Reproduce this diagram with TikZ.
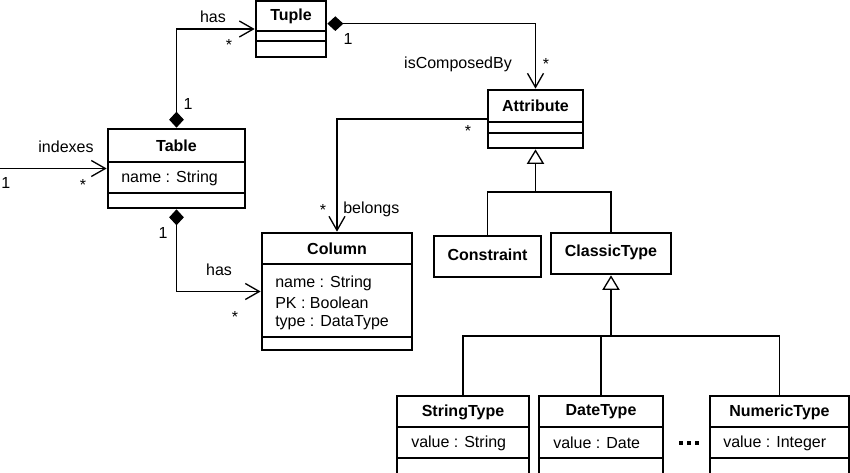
\documentclass[tikz,border=0pt]{standalone}
\usepackage{fontspec}
\setmainfont{Liberation Sans}
\usetikzlibrary{arrows.meta,fit}

\begin{document}
\begin{tikzpicture}[x=0.75pt,y=0.75pt,yscale=-1,xscale=1,
  font=\fontsize{12}{14}\selectfont,
  cls/.style={draw,line width=2pt,inner sep=0pt},
  sep/.style={line width=0.8pt},
  ttl/.style={font=\fontsize{12}{14}\selectfont\bfseries,inner sep=0.75pt},
  field/.style={anchor=west,inner sep=0.75pt},
  lbl/.style={inner sep=0.75pt},
  link/.style={line width=1pt},
  assoc/.style={link,-{Straight Barb[length=10.5pt,width=12pt]}},
  comp/.style={link,{Diamond[length=12pt,width=11pt]}-{Straight Barb[length=10.5pt,width=12pt]}},
  gen/.style={link,-{Triangle[open,length=11pt,width=13pt,fill=white]}}]
\useasboundingbox (0,0) rectangle (850,473);

%Class: Tuple
\node[cls, fit={(256,1) (326,57)}] (tuple) {};
\draw[sep] (256,31) -- (326,31);
\draw[sep] (256,41) -- (326,41);
\node[ttl] (tupleT) at (291,16) {Tuple};

%Class: Table
\node[cls, fit={(108,129) (245,208)}] (table) {};
\draw[sep] (108,162) -- (245,162);
\draw[sep] (108,193) -- (245,193);
\node[ttl] (tableT) at (176.5,146) {Table};
\node[field] (tableA) at (120,178) {name : String};

%Class: Attribute
\node[cls, fit={(488,90) (583,148)}] (attribute) {};
\draw[sep] (488,122) -- (583,122);
\draw[sep] (488,133) -- (583,133);
\node[ttl] (attributeT) at (535.5,106) {Attribute};

%Class: Column
\node[cls, fit={(262,233) (412,350)}] (column) {};
\draw[sep] (262,264) -- (412,264);
\draw[sep] (262,337) -- (412,337);
\node[ttl] (columnT) at (337,249) {Column};
\node[field] (columnA) at (274,283) {name : String};
\node[field] (columnB) at (274,303) {PK : Boolean};
\node[field] (columnC) at (274,323) {type : DataType};

%Class: Constraint
\node[cls, fit={(434,236) (541,277)}] (constraint) {};
\node[ttl] (constraintT) at (487.5,255) {Constraint};

%Class: ClassicType
\node[cls, fit={(551,233) (671,274)}] (classic) {};
\node[ttl] (classicT) at (611,252) {ClassicType};

%Class: StringType
\node[cls, fit={(397,396) (529,477)}] (stringt) {};
\draw[sep] (397,427) -- (529,427);
\draw[sep] (397,458) -- (529,458);
\node[ttl] (stringtT) at (463,412) {StringType};
\node[field] (stringtA) at (410,443) {value : String};

%Class: DateType
\node[cls, fit={(539,396) (663,477)}] (datet) {};
\draw[sep] (539,427) -- (663,427);
\draw[sep] (539,458) -- (663,458);
\node[ttl] (datetT) at (601,412) {DateType};
\node[field] (datetA) at (552,443) {value : Date};

%Class: NumericType
\node[cls, fit={(710,396) (849,477)}] (numt) {};
\draw[sep] (710,427) -- (849,427);
\draw[sep] (710,458) -- (849,458);
\node[ttl] (numtT) at (779.5,412) {NumericType};
\node[field] (numtA) at (722,443) {value : Integer};

%Dots
\foreach \x in {681,689,697}
  \fill (\x-2,441) rectangle (\x+2,445);

%Associations
\coordinate (src) at (0,168.5);
\draw[comp] (table.north) |- (tuple.west);
\draw[comp] ([yshift=-4pt]tuple.east) -| (attribute.north);
\draw[assoc] (src) -- (table.west);
\draw[comp] (table.south) |- (column.west);
\draw[assoc] (attribute.west) -| (column.north);

%Generalizations
\coordinate (g1) at (535.5,192);
\draw[link] (constraint.north) |- (g1) -| (classic.north);
\draw[gen] (g1) -- (attribute.south);
\coordinate (g2) at (611,336);
\draw[link] (stringt.north) |- (g2) -| (numt.north);
\draw[link] (datet.north) -- (datet.north |- g2);
\draw[gen] (g2) -- (classic.south);

% Text Node
\node[lbl] (hasT) at (213,17) {has};
\node[lbl] (hasTm) at (229,45) {*};
\node[lbl] (hasTo) at (188,104) {1};
\node[lbl] (compO) at (348,39) {1};
\node[lbl] (compL) at (458,64) {isComposedBy};
\node[lbl] (compM) at (546,64) {*};
\node[lbl] (belM1) at (468,131) {*};
\node[lbl] (belM2) at (323,210) {*};
\node[lbl, anchor=west] (belL) at (342,209) {belongs};
\node[lbl] (idxL) at (66,147) {indexes};
\node[lbl, anchor=west] (idxO) at (0,183) {1};
\node[lbl] (idxM) at (83,185) {*};
\node[lbl] (hasCo) at (163,233) {1};
\node[lbl] (hasC) at (219,270) {has};
\node[lbl] (hasCm) at (235,317) {*};
\end{tikzpicture}
\end{document}
